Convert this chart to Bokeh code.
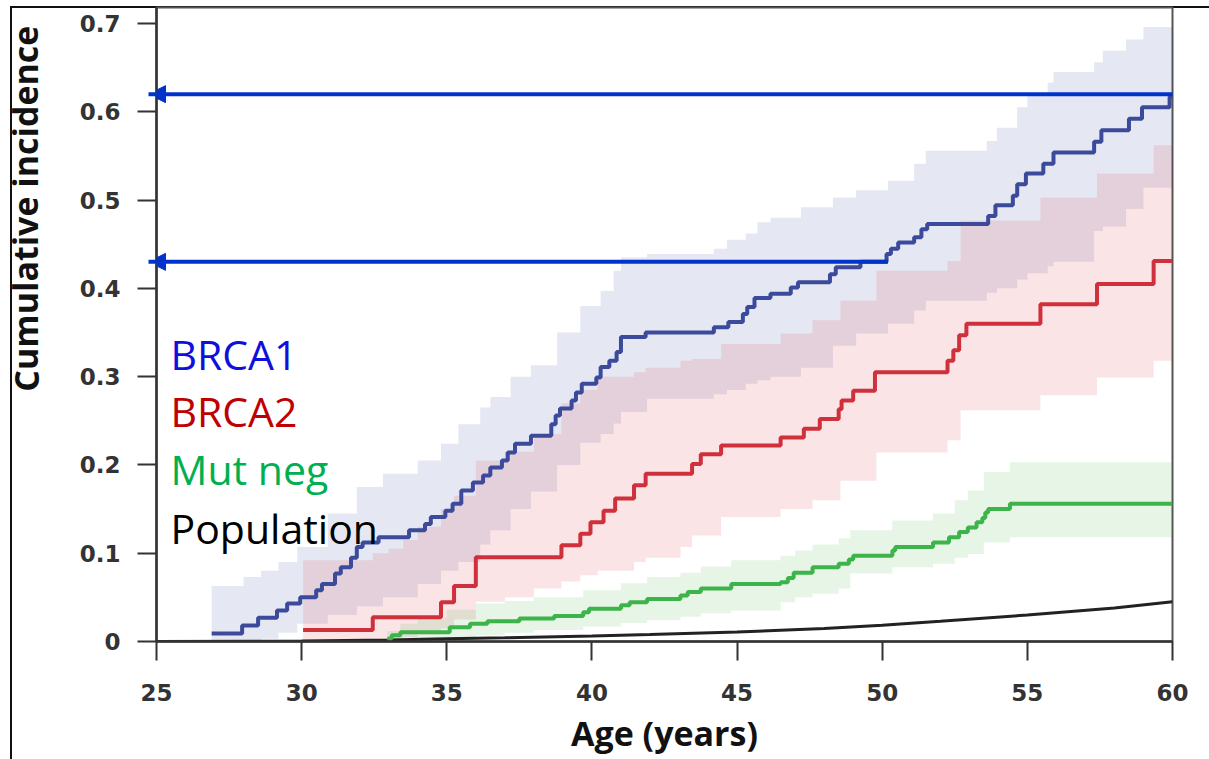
from bokeh.plotting import figure
from bokeh.layouts import row
from bokeh.models import (Range1d, FixedTicker, CustomJSTickFormatter, Label,
                          Arrow, NormalHead)
from bokeh.embed import file_html
from bokeh.resources import INLINE

# ---------------- data ----------------
x_ticks = [25, 30, 35, 40, 45, 50, 55, 60]
y_ticks = [0, 0.1, 0.2, 0.3, 0.4, 0.5, 0.6, 0.7]

# Kaplan-Meier style cumulative incidence (value holds from each age onward)
brca1_age = [26.9, 27.95, 28.5, 29.15, 29.5, 29.95, 30.5, 30.7, 31.15, 31.35, 31.7, 31.9,
             32.1, 32.65, 33.7, 34.25, 34.45, 34.95, 35.2, 35.5, 35.9, 36.25, 36.5, 36.9,
             37.1, 37.35, 37.9, 38.6, 38.75, 38.9, 39.3, 39.45, 39.65, 40.15, 40.3, 40.6,
             40.85, 41.0, 41.85, 44.2, 44.7, 45.2, 45.35, 45.6, 46.15, 46.85, 47.1, 48.2,
             48.4, 49.25, 50.15, 50.3, 50.55, 51.1, 51.35, 51.55, 53.65, 53.9, 54.5, 54.65,
             54.95, 55.55, 55.9, 57.3, 57.55, 58.5, 58.95, 59.9, 60.0]
brca1_inc = [0.009, 0.018, 0.027, 0.035, 0.043, 0.050, 0.058, 0.065, 0.077, 0.084, 0.095, 0.107,
             0.112, 0.118, 0.126, 0.133, 0.141, 0.148, 0.156, 0.171, 0.180, 0.188, 0.197, 0.205,
             0.214, 0.224, 0.233, 0.246, 0.256, 0.264, 0.273, 0.282, 0.292, 0.299, 0.311, 0.318,
             0.328, 0.345, 0.350, 0.356, 0.362, 0.371, 0.379, 0.389, 0.394, 0.401, 0.407, 0.416,
             0.424, 0.430, 0.439, 0.445, 0.452, 0.458, 0.467, 0.473, 0.482, 0.494, 0.505, 0.518,
             0.530, 0.541, 0.554, 0.566, 0.579, 0.592, 0.605, 0.617, 0.617]

brca2_age = [30.05, 32.45, 34.8, 35.25, 36.0, 38.95, 39.6, 39.95, 40.4, 40.8, 41.45, 41.85,
             43.45, 43.75, 44.45, 46.5, 47.3, 47.85, 48.5, 48.6, 49.0, 49.75, 52.25, 52.45,
             52.65, 52.9, 55.45, 57.4, 59.35, 60.0]
brca2_inc = [0.013, 0.0275, 0.0445, 0.063, 0.0955, 0.109, 0.122, 0.135, 0.148, 0.162, 0.177, 0.190,
             0.201, 0.212, 0.222, 0.231, 0.241, 0.252, 0.263, 0.273, 0.284, 0.305, 0.318, 0.330,
             0.347, 0.360, 0.382, 0.405, 0.431, 0.431]

mutneg_age = [32.95, 33.1, 33.4, 35.1, 35.8, 36.4, 37.5, 38.7, 39.7, 39.9, 41.0, 41.3, 41.9,
              43.05, 43.3, 43.75, 44.8, 46.5, 46.75, 46.95, 47.6, 48.5, 48.85, 49.0, 50.35,
              50.45, 51.75, 52.3, 52.65, 52.95, 53.25, 53.45, 53.55, 53.65, 54.4, 60.0]
mutneg_inc = [0.003, 0.007, 0.0106, 0.016, 0.020, 0.023, 0.026, 0.029, 0.033, 0.037, 0.041, 0.0445,
              0.048, 0.052, 0.056, 0.060, 0.065, 0.067, 0.072, 0.078, 0.084, 0.088, 0.093, 0.097,
              0.103, 0.107, 0.112, 0.118, 0.124, 0.129, 0.135, 0.140, 0.146, 0.150, 0.156, 0.156]

population_age = [25, 30, 33, 35, 37, 40, 42, 45, 48, 50, 52, 55, 58, 60]
population_inc = [0.0, 0.0006, 0.0018, 0.003, 0.0042, 0.0062, 0.0078, 0.0108, 0.0146,
                  0.0185, 0.023, 0.030, 0.038, 0.045]

# 95% confidence bands (lower / upper), stepped on their own ages
brca1_ci_age = [26.9, 28.0, 28.6, 29.2, 29.85, 30.9, 31.9, 32.8, 34.0, 34.8, 35.4, 36.15, 36.5,
                37.2, 37.9, 38.8, 39.6, 40.3, 40.75, 41.0, 41.9, 44.2, 44.65, 45.3, 45.7, 46.15,
                47.2, 48.3, 49.1, 50.2, 51.1, 51.5, 53.6, 53.95, 54.65, 55.0, 55.7, 55.9, 57.3,
                57.6, 58.4, 59.0, 60.0]
brca1_ci_lo = [0.0, 0.0, 0.003, 0.01, 0.02, 0.03, 0.04, 0.05, 0.065, 0.08, 0.09, 0.11, 0.126,
               0.15, 0.17, 0.20, 0.225, 0.235, 0.247, 0.26, 0.275, 0.28, 0.285, 0.292, 0.296, 0.30,
               0.31, 0.335, 0.349, 0.36, 0.375, 0.386, 0.395, 0.40, 0.41, 0.417, 0.425, 0.43, 0.465,
               0.47, 0.49, 0.514, 0.515]
brca1_ci_hi = [0.063, 0.073, 0.08, 0.09, 0.107, 0.145, 0.175, 0.19, 0.205, 0.224, 0.246, 0.265,
               0.277, 0.30, 0.313, 0.35, 0.38, 0.397, 0.42, 0.435, 0.439, 0.445, 0.455, 0.462,
               0.475, 0.48, 0.492, 0.503, 0.511, 0.522, 0.541, 0.556, 0.567, 0.582, 0.605, 0.618,
               0.633, 0.645, 0.656, 0.669, 0.682, 0.696, 0.696]

brca2_ci_age = [30.05, 32.45, 33.0, 33.5, 34.0, 34.8, 35.25, 36.0, 37.0, 38.0, 38.95, 39.6, 40.2,
                41.45, 41.85, 43.05, 43.45, 44.45, 46.5, 47.6, 48.56, 49.8, 52.25, 52.7, 55.45,
                57.4, 59.35, 60.0]
brca2_ci_lo = [0.0, 0.0, 0.002, 0.005, 0.008, 0.015, 0.025, 0.045, 0.05, 0.06, 0.068, 0.075, 0.08,
               0.09, 0.095, 0.107, 0.12, 0.141, 0.15, 0.16, 0.182, 0.214, 0.228, 0.262, 0.279,
               0.299, 0.318, 0.318]
brca2_ci_hi = [0.092, 0.10, 0.105, 0.115, 0.13, 0.15, 0.165, 0.205, 0.215, 0.235, 0.27, 0.285,
               0.30, 0.305, 0.31, 0.318, 0.32, 0.337, 0.349, 0.364, 0.386, 0.42, 0.431, 0.477,
               0.503, 0.53, 0.562, 0.562]

mutneg_ci_age = [32.95, 33.4, 34.0, 35.0, 36.0, 37.0, 38.0, 39.7, 41.0, 41.9, 43.05, 43.75, 44.8,
                 46.5, 47.0, 47.6, 48.5, 48.9, 50.35, 51.75, 52.5, 52.95, 53.5, 54.4, 60.0]
mutneg_ci_lo = [0.0, 0.0, 0.002, 0.004, 0.007, 0.01, 0.013, 0.017, 0.021, 0.024, 0.028, 0.032,
                0.035, 0.0445, 0.05, 0.054, 0.06, 0.077, 0.084, 0.088, 0.095, 0.099, 0.112, 0.118,
                0.118]
mutneg_ci_hi = [0.012, 0.02, 0.027, 0.036, 0.043, 0.046, 0.05, 0.058, 0.066, 0.073, 0.078, 0.085,
                0.092, 0.097, 0.103, 0.11, 0.117, 0.126, 0.137, 0.145, 0.16, 0.171, 0.192, 0.203,
                0.203]

# highlighted risk levels, drawn as arrows back to the y axis
arrow_levels = [0.62, 0.43]
arrow_from_age = [60.1, 50.2]

series_names = ["BRCA1", "BRCA2", "Mut neg", "Population"]
series_label_colors = ["#1010DC", "#C00000", "#00B050", "#000000"]

# ---------------- layout ----------------
W, H = 1209, 759
SIDE_W = 60                      # strip holding the vertical axis title
FRAME_L, FRAME_R, FRAME_T, FRAME_B = 156, 1172, 7, 641
X_MIN, X_MAX = 25, 60
PX_PER_UNIT_Y = 618 / 0.7
Y_MAX = (FRAME_B - FRAME_T) / PX_PER_UNIT_Y
PX_PER_YEAR = (FRAME_R - FRAME_L) / (X_MAX - X_MIN)


def age_at(px):
    return X_MIN + (px - FRAME_L) / PX_PER_YEAR


def inc_at(py):
    return (FRAME_B - py) / PX_PER_UNIT_Y


# narrow strip on the left carrying the rotated y-axis title
side = figure(width=SIDE_W, height=H, output_backend="svg", toolbar_location=None,
              x_range=Range1d(0, SIDE_W), y_range=Range1d(0, H),
              x_axis_location=None, y_axis_location=None, min_border=0)
side.background_fill_color = None
side.border_fill_color = None
side.outline_line_color = None
side.xgrid.visible = False
side.ygrid.visible = False
side.add_layout(Label(x=25, y=H - 460, text="Cumulative incidence", angle=1.5708,
                      text_align="left", text_baseline="alphabetic", text_font="Open Sans",
                      text_font_style="bold", text_font_size="34px", text_color="#111111"))

plot = figure(width=W - SIDE_W, height=H, output_backend="svg", toolbar_location=None,
              x_range=Range1d(X_MIN, X_MAX), y_range=Range1d(0, Y_MAX),
              min_border_left=FRAME_L - SIDE_W, min_border_right=W - FRAME_R,
              min_border_top=FRAME_T, min_border_bottom=H - FRAME_B)
plot.background_fill_color = "white"
plot.border_fill_color = None
plot.outline_line_color = "#555555"
plot.outline_line_width = 2
plot.xgrid.visible = False
plot.ygrid.visible = False

# confidence bands
plot.varea_step(x=brca1_ci_age, y1=brca1_ci_lo, y2=brca1_ci_hi, step_mode="after",
                fill_color="#3A4FA0", fill_alpha=0.135)
plot.varea_step(x=brca2_ci_age, y1=brca2_ci_lo, y2=brca2_ci_hi, step_mode="after",
                fill_color="#D83040", fill_alpha=0.13)
plot.varea_step(x=mutneg_ci_age, y1=mutneg_ci_lo, y2=mutneg_ci_hi, step_mode="after",
                fill_color="#40B040", fill_alpha=0.13)

# curves
plot.line(population_age, population_inc, line_color="#222222", line_width=3)
plot.step(mutneg_age, mutneg_inc, mode="after", line_color="#3CB44A", line_width=4)
plot.step(brca2_age, brca2_inc, mode="after", line_color="#D0303C", line_width=4)
plot.step(brca1_age, brca1_inc, mode="after", line_color="#3C4A9C", line_width=4)

# arrows pointing at the y axis
for level, start in zip(arrow_levels, arrow_from_age):
    plot.add_layout(Arrow(end=NormalHead(size=17, fill_color="#0033CC", line_color="#0033CC"),
                          x_start=start, y_start=level, x_end=age_at(148), y_end=level,
                          line_color="#0033CC", line_width=4))

# axes
plot.xaxis.ticker = FixedTicker(ticks=x_ticks)
plot.yaxis.ticker = FixedTicker(ticks=y_ticks)
plot.yaxis.formatter = CustomJSTickFormatter(code="return tick === 0 ? '0' : tick.toFixed(1);")
for ax in (plot.xaxis[0], plot.yaxis[0]):
    ax.axis_line_color = "#333333"
    ax.axis_line_width = 2.5
    ax.major_tick_line_color = "#333333"
    ax.major_tick_line_width = 2
    ax.major_tick_out = 19
    ax.major_tick_in = 0
    ax.minor_tick_line_color = None
    ax.major_label_text_font = "DejaVu Sans"
    ax.major_label_text_font_style = "bold"
    ax.major_label_text_font_size = "23px"
    ax.major_label_text_color = "#333333"
plot.xaxis.major_label_standoff = 23
plot.yaxis.major_label_standoff = 17

plot.xaxis.axis_label = "Age (years)"
plot.xaxis.axis_label_text_font = "Open Sans"
plot.xaxis.axis_label_text_font_style = "bold"
plot.xaxis.axis_label_text_font_size = "34px"
plot.xaxis.axis_label_text_color = "#111111"
plot.xaxis.axis_label_standoff = 6

# series key
key_baselines = [353, 410, 468, 527]
for name, color, base in zip(series_names, series_label_colors, key_baselines):
    plot.add_layout(Label(x=age_at(170), y=inc_at(base), text=name, text_align="left",
                          text_baseline="alphabetic", text_font="Open Sans",
                          text_font_size="41px", text_color=color))

p = row(side, plot, spacing=0)
# thin panel border behind the transparent margins
p.styles = {
    "background-color": "white",
    "background-image": "linear-gradient(#111111, #111111), linear-gradient(#111111, #111111)",
    "background-size": "2px 100%, 100% 2px",
    "background-position": "10px 6px, 10px 6px",
    "background-repeat": "no-repeat",
}

open("out.html", "w").write(file_html(p, INLINE))
